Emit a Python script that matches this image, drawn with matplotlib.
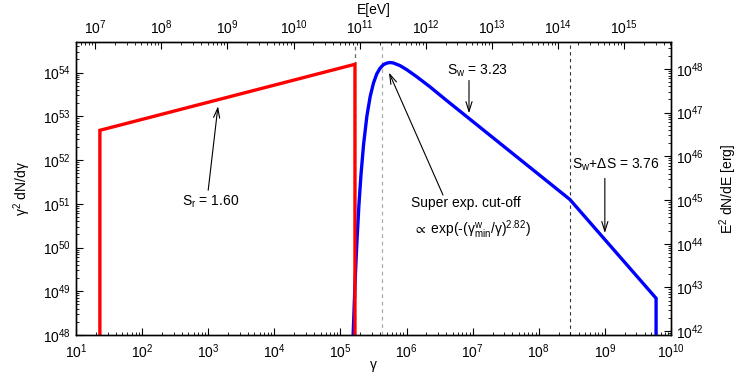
import numpy as np
import matplotlib
matplotlib.use("Agg")
import matplotlib.pyplot as plt
from matplotlib.ticker import LogLocator, NullFormatter

plt.rcParams['font.family'] = ['Liberation Sans', 'DejaVu Sans']
plt.rcParams['mathtext.fontset'] = 'custom'
plt.rcParams['mathtext.rm'] = 'Liberation Sans'
plt.rcParams['mathtext.it'] = 'Liberation Sans:italic'
plt.rcParams['mathtext.default'] = 'regular'
plt.rcParams['font.size'] = 10

# radio electrons (red): gamma and gamma^2 dN/dgamma
gamma_r = [23, 23, 1.66e5, 1.66e5]
lg_flux_r = [48.0, 52.68, 54.19, 48.0]

# wind electrons (blue) (log10 values)
lg_gamma_w = [5.19, 5.22, 5.235, 5.25, 5.28, 5.31, 5.35, 5.40, 5.45, 5.50, 5.55,
              5.60, 5.65, 5.70, 5.75, 5.80, 5.90, 6.00, 6.15, 6.35, 6.60,
              8.47, 9.775, 9.775]
lg_flux_w = [47.9, 49.13, 49.66, 50.14, 50.97, 51.64, 52.35, 53.00, 53.45, 53.76, 53.97,
             54.10, 54.18, 54.215, 54.23, 54.22, 54.16, 54.07, 53.91, 53.68, 53.37,
             51.1, 48.84, 48.0]

# vertical dashed markers
gamma_break_r = 1.66e5
gamma_min_w = 4.2e5
gamma_break_w = 2.95e8

me_eV = 0.511e6      # electron rest energy in eV
me_erg = 8.187e-7    # electron rest energy in erg

fig = plt.figure(figsize=(7.47, 3.74), dpi=100)
ax = fig.add_axes([0.1017, 0.1043, 0.7965, 0.7834])

ax.axvline(gamma_break_r, color='#666666', ls=(0, (3, 3)), lw=0.9, zorder=1)
ax.axvline(gamma_min_w, color='#aaaaaa', ls=(0, (3, 3)), lw=0.9, zorder=1)
ax.axvline(gamma_break_w, color='#333333', ls=(0, (3, 3)), lw=0.8, zorder=1)

ax.plot(10 ** np.array(lg_gamma_w), 10 ** np.array(lg_flux_w), color='#0000ff',
        lw=2.4, solid_joinstyle='miter', solid_capstyle='butt', zorder=3)
ax.plot(gamma_r, 10 ** np.array(lg_flux_r), color='#ff0000',
        lw=2.4, solid_joinstyle='miter', solid_capstyle='butt', zorder=4)

ax.set_xscale('log')
ax.set_yscale('log')
ax.set_xlim(1e1, 1e10)
ax.set_ylim(1e48, 5e54)

# annotations
arr = dict(arrowstyle='->,head_length=0.7,head_width=0.22', lw=0.8, color='black',
           shrinkA=0, shrinkB=0)
ax.annotate('', xy=(10 ** 3.148, 10 ** 53.23), xytext=(10 ** 3.0, 10 ** 51.31), arrowprops=arr)
ax.text(10 ** 3.03, 10 ** 51.04, 'S$_r$ = 1.60', ha='center', va='center')

ax.annotate('', xy=(10 ** 6.945, 10 ** 53.07), xytext=(10 ** 6.945, 10 ** 53.82), arrowprops=arr)
ax.text(10 ** 6.61, 10 ** 54.03, 'S$_w$ = 3.23', ha='left', va='center')

ax.annotate('', xy=(10 ** 9.0, 10 ** 50.33), xytext=(10 ** 9.0, 10 ** 51.58), arrowprops=arr)
ax.text(10 ** 8.50, 10 ** 51.88, 'S$_w$+ΔS = 3.76', ha='left', va='center')

ax.annotate('', xy=(10 ** 5.735, 10 ** 54.0), xytext=(10 ** 6.552, 10 ** 51.2), arrowprops=arr)
ax.text(10 ** 6.90, 10 ** 51.01, 'Super exp. cut-off', ha='center', va='center')
ax.text(10 ** 6.99, 10 ** 50.40, r'$\propto$ exp(-(γ$^w_{min}$/γ)$^{2.82}$)', ha='center', va='center')

# ticks
def style_ticks(a):
    a.tick_params(which='major', direction='in', length=5, width=0.8)
    a.tick_params(which='minor', direction='in', length=2.5, width=0.6)

ax.xaxis.set_major_locator(LogLocator(base=10, numticks=20))
ax.xaxis.set_minor_locator(LogLocator(base=10, subs=np.arange(2, 10), numticks=20))
ax.xaxis.set_minor_formatter(NullFormatter())
ax.yaxis.set_major_locator(LogLocator(base=10, numticks=20))
ax.yaxis.set_minor_locator(LogLocator(base=10, subs=np.arange(2, 10), numticks=20))
ax.yaxis.set_minor_formatter(NullFormatter())
style_ticks(ax)
ax.tick_params(axis='x', which='both', pad=5)

fig.text(373 / 747, 1 - 365 / 374, 'γ', ha='center', va='center', fontsize=10)
ax.set_ylabel('γ$^2$ dN/dγ', labelpad=7)

# top axis: energy in eV
axt = ax.twiny()
axt.set_xscale('log')
axt.set_xlim(1e1 * me_eV, 1e10 * me_eV)
axt.xaxis.set_major_locator(LogLocator(base=10, numticks=20))
axt.xaxis.set_minor_locator(LogLocator(base=10, subs=np.arange(2, 10), numticks=20))
axt.xaxis.set_minor_formatter(NullFormatter())
style_ticks(axt)
axt.yaxis.set_visible(False)
axt.set_xlabel('E[eV]', labelpad=3)

# right axis: E^2 dN/dE in erg
axr = ax.twinx()
axr.set_yscale('log')
axr.set_ylim(1e48 * me_erg, 5e54 * me_erg)
axr.yaxis.set_major_locator(LogLocator(base=10, numticks=20))
axr.yaxis.set_minor_locator(LogLocator(base=10, subs=np.arange(2, 10), numticks=20))
axr.yaxis.set_minor_formatter(NullFormatter())
style_ticks(axr)
axr.xaxis.set_visible(False)
axr.set_ylabel('E$^2$ dN/dE [erg]', labelpad=10)

for a in (ax, axt, axr):
    for s in a.spines.values():
        s.set_linewidth(0.9)

fig.savefig('out.png', dpi=100)
